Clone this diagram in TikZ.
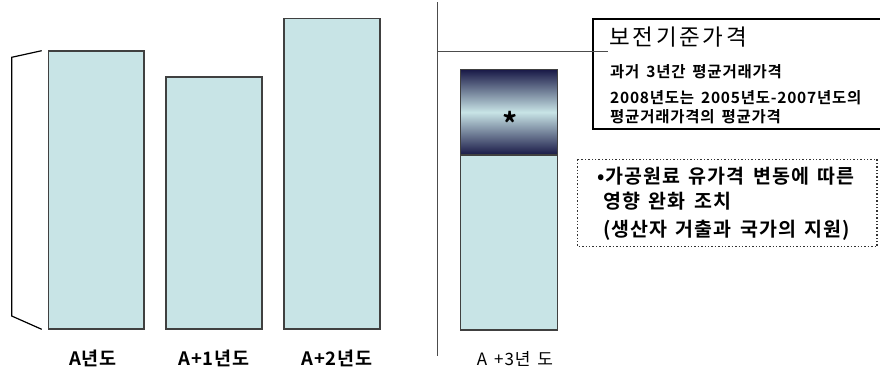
\documentclass[tikz,border=0pt]{standalone}
\usepackage{fontspec}
\newfontfamily\krt[LetterSpace=12]{Noto Sans CJK KR}
\newfontfamily\krs[LetterSpace=5,WordSpace=1.5]{Noto Sans CJK KR}
\newfontfamily\krb[LetterSpace=5,WordSpace=1.6]{Noto Sans CJK KR Bold}
\begin{document}
\begin{tikzpicture}[x=1pt,y=-1pt,
  bar/.style={draw=black!75, line width=1.2pt, fill=barblue},
  lbl/.style={inner sep=0pt, font=\krb\fontsize{18.5}{20}\selectfont},
  boxtxt/.style={inner sep=0pt, anchor=west, font=\krb\fontsize{15.5}{18}\selectfont},
  dottxt/.style={inner sep=0pt, anchor=west, font=\krb\fontsize{19.5}{22}\selectfont}]
\definecolor{barblue}{RGB}{200,228,230}
\definecolor{navy}{RGB}{24,24,70}
\useasboundingbox (0,0) rectangle (880,370);
\fill[white] (0,0) rectangle (880,370);
% bars
\filldraw[bar] (48.3,51) rectangle (144,329);
\filldraw[bar] (166,77) rectangle (262,329);
\filldraw[bar] (284,18.3) rectangle (380,329);
% bracket
\draw[line width=1.2pt, black] (41.7,50.7) -- (11.7,57.3) -- (11.7,316) -- (41.7,329.3);
% labels
\node[lbl] (l1) at (93,358) {A년도};
\node[lbl] (l2) at (214,358) {A+1년도};
\node[lbl] (l3) at (337,358) {A+2년도};
% separator
\draw[line width=1pt, black!70] (437.5,2) -- (437.5,356);
% bar 4
\filldraw[bar] (460.7,155) rectangle (557.3,330);
\shade[top color=navy, bottom color=navy, middle color=barblue] (460.7,69.3) rectangle (557.3,155);
\draw[draw=black!75, line width=1.2pt] (460.7,69.3) rectangle (557.3,330);
\draw[draw=black!75, line width=1.2pt] (460.7,155) -- (557.3,155);
\node[inner sep=0pt, font=\krb\fontsize{30}{30}\selectfont] (star) at (510,123) {*};
\node[inner sep=0pt, font=\krs\fontsize{17}{20}\selectfont] (l4) at (515,359) {A +3년 도};
% box
\filldraw[draw=black, line width=2.2pt, fill=white] (593,19) rectangle (890,129.3);
\draw[line width=0.8pt, black!70] (438,51) -- (608,51);
\node[inner sep=0pt, anchor=west, font=\krt\fontsize{22.5}{26}\selectfont] (title) at (609,37) {보전기준가격};
\node[boxtxt] (t1) at (610,72) {과거 3년간 평균거래가격};
\node[boxtxt] (t2) at (610,98) {2008년도는 2005년도-2007년도의};
\node[boxtxt] (t3) at (610,117) {평균거래가격의 평균가격};
% dotted box
\draw[black!80, line width=1.4pt, dotted] (577.7,159.3) rectangle (877,246.7);
\node[dottxt] (d1) at (597,176) {•가공원료 유가격 변동에 따른};
\node[dottxt] (d2) at (603,201) {영향 완화 조치};
\node[dottxt] (d3) at (603,230) {(생산자 거출과 국가의 지원)};
\end{tikzpicture}
\end{document}
